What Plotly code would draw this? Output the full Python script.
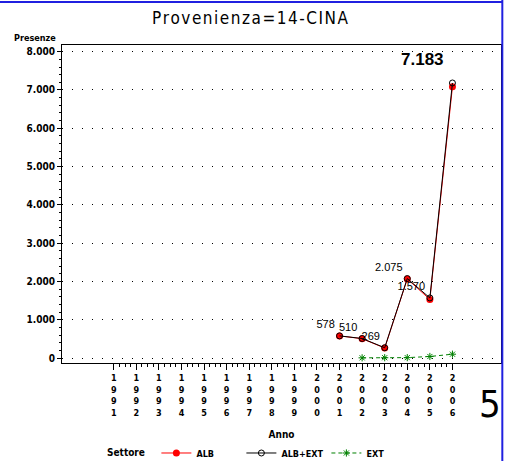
import plotly.graph_objects as go

# ---- data ----
anni = list(range(1991, 2007))
anni_dati = [2001, 2002, 2003, 2004, 2005, 2006]
alb = [578, 505, 261, 2065, 1530, 7083]
alb_ext = [578, 510, 269, 2075, 1570, 7183]
anni_ext = [2002, 2003, 2004, 2005, 2006]
ext = [5, 8, 10, 40, 100]
y_ticks = [0, 1000, 2000, 3000, 4000, 5000, 6000, 7000, 8000]

def fmt(v):
    return f"{v:,}".replace(",", ".")

NARROW = "Liberation Sans Narrow, DejaVu Sans Condensed, Arial Narrow, sans-serif"

# small labels on all points but the last; the last one is drawn big
labels = [fmt(v) for v in alb_ext[:-1]] + [""]

fig = go.Figure()
fig.add_trace(go.Scatter(
    x=anni_dati, y=alb, mode="lines+markers", name="ALB",
    line=dict(color="#ff0000", width=1),
    marker=dict(symbol="circle", size=7, color="#ff0000"),
))
fig.add_trace(go.Scatter(
    x=anni_dati, y=alb_ext, mode="lines+markers+text", name="ALB+EXT",
    line=dict(color="#000000", width=1),
    marker=dict(symbol="circle-open", size=6, color="#000000", line=dict(width=1)),
    text=labels, textposition="top left",
    textfont=dict(family="Liberation Sans, Arial, sans-serif", size=11, color="#000000"),
))
fig.add_trace(go.Scatter(
    x=anni_ext, y=ext, mode="lines+markers", name="EXT",
    line=dict(color="#008000", width=1, dash="4px,3px"),
    marker=dict(symbol="asterisk-open", size=6, color="#008000", line=dict(width=1, color="#008000")),
))

minor_x = [a + q / 4 for a in anni[:-1] for q in (1, 2, 3)]

fig.update_layout(
    width=507, height=461,
    margin=dict(l=62, r=6, t=45, b=98, autoexpand=False),
    paper_bgcolor="white", plot_bgcolor="white",
    font=dict(family=NARROW, color="black", size=10),
    title=dict(text="\u200a".join("Provenienza=14-CINA"), x=0.493, xanchor="center",
               y=0.961, yanchor="middle",
               font=dict(family=NARROW, size=17, color="black")),
    showlegend=True,
    legend=dict(orientation="h", x=0.215, xanchor="left", y=-0.283, yanchor="middle",
                font=dict(family=NARROW, size=9, weight="bold"),
                itemwidth=30, entrywidth=40, tracegroupgap=0, bgcolor="rgba(0,0,0,0)"),
    xaxis=dict(
        range=[1988.71, 2008.15], tickmode="array", tickvals=anni,
        ticktext=["<br>".join(str(a)) for a in anni],
        ticks="outside", ticklen=6, tickcolor="black", tickwidth=1,
        minor=dict(tickmode="array", tickvals=minor_x, ticks="outside", ticklen=3,
                   tickcolor="black", tickwidth=1, showgrid=False),
        showgrid=False, zeroline=False, automargin=False,
        showline=True, linecolor="black", linewidth=1, mirror=True,
        tickfont=dict(family=NARROW, size=9, weight="bold"),
        title=dict(text="Anno", font=dict(family=NARROW, size=10, weight="bold"), standoff=14),
    ),
    yaxis=dict(
        range=[-130, 8175], tickmode="array", tickvals=y_ticks,
        ticktext=[fmt(v) for v in y_ticks],
        ticks="outside", ticklen=4, tickcolor="black", tickwidth=1,
        minor=dict(dtick=200, tick0=0, ticks="outside", ticklen=2, tickcolor="black",
                   showgrid=False),
        showgrid=True, gridcolor="black", gridwidth=1, griddash="1px,9px",
        zeroline=False, automargin=False,
        showline=True, linecolor="black", linewidth=1, mirror=True,
        tickfont=dict(family=NARROW, size=10, weight="bold"),
    ),
    annotations=[
        dict(text=fmt(alb_ext[-1]), x=anni_dati[-1], y=alb_ext[-1], xref="x", yref="y",
             xanchor="right", yanchor="bottom", xshift=-6, yshift=12, showarrow=False,
             font=dict(family="Liberation Sans, Arial, sans-serif", size=17,
                       weight="bold", color="black")),
        dict(text="Presenze", xref="paper", yref="paper", x=-0.01, y=1.0,
             xanchor="right", yanchor="bottom", showarrow=False,
             font=dict(family=NARROW, size=9, weight="bold")),
        dict(text="Settore", xref="paper", yref="paper", x=0.146, y=-0.283,
             xanchor="center", yanchor="middle", showarrow=False,
             font=dict(family=NARROW, size=10, weight="bold")),
        dict(text="5", xref="paper", yref="paper", x=0.975, y=-0.13,
             xanchor="center", yanchor="middle", showarrow=False,
             font=dict(family=NARROW, size=38, color="black")),
    ],
    shapes=[
        dict(type="line", xref="paper", yref="paper", x0=1.003, x1=1.003, y0=-0.4, y1=1.2,
             line=dict(color="#2020e0", width=2)),
        dict(type="line", xref="paper", yref="paper", x0=-0.2, x1=1.003, y0=1.135, y1=1.135,
             line=dict(color="#2020e0", width=2)),
    ],
)

fig.write_html("out.html", config={"displayModeBar": False},
               post_script="document.body.style.margin='0';")
